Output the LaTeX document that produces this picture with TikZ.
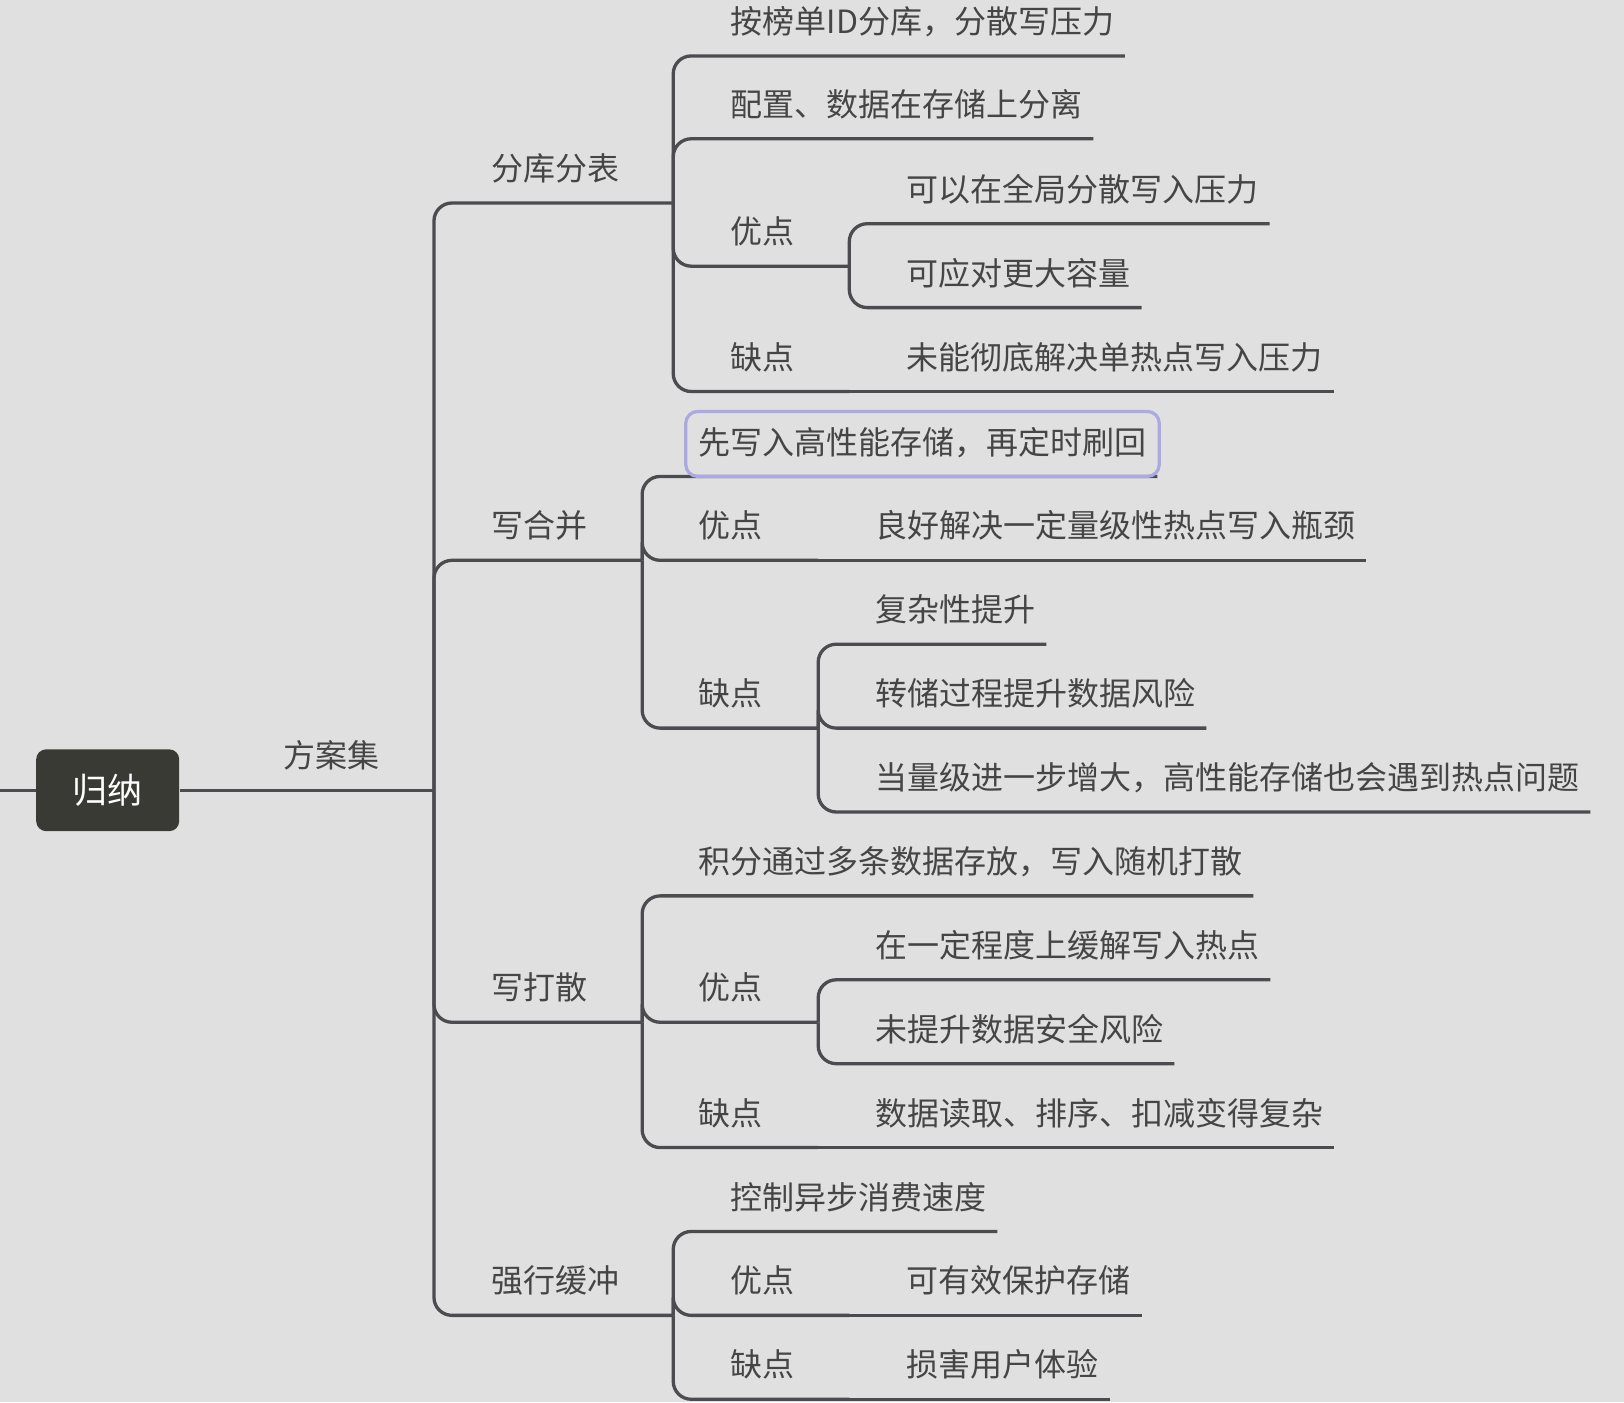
\documentclass[tikz,border=0pt]{standalone}
\usepackage{fontspec}
\usepackage{xcolor}
\usepackage{tikz}
\usetikzlibrary{calc}
\usetikzlibrary{positioning}
\newfontfamily\cjk{Noto Sans CJK SC}
\definecolor{bgcolor}{HTML}{E0E0E0}
\definecolor{linkcolor}{HTML}{4B4B50}
\definecolor{textcolor}{HTML}{454545}
\definecolor{rootfill}{HTML}{393A33}
\definecolor{hlcolor}{HTML}{ABA9E3}
\tikzset{
	rootnode/.style={rectangle, rounded corners=5pt, fill=rootfill, text=white, minimum width=71.5pt, minimum height=40.9pt, font=\cjk\fontsize{17.5}{20}\selectfont},
	topicnode/.style={anchor=south west, inner xsep=5.2pt, inner ysep=0pt, text depth=11pt, text=textcolor, font=\cjk\fontsize{16}{18}\selectfont},
	linkline/.style={draw=linkcolor, line width=1.65pt, rounded corners=9pt},
	hlbox/.style={draw=hlcolor, line width=1.6pt, rounded corners=6pt}
}

\begin{document}
\begin{tikzpicture}[x=0.51786pt, y=-0.51786pt]
	\fill[bgcolor] (0,0) rectangle (1568,1354);
	\useasboundingbox (0,0) rectangle (1568,1354);

		\node[rootnode] at (104,763) (root) {归纳};
		\node[topicnode] at (263,763) (fa) {方案集};
		\coordinate (stub) at (0,763);
		\coordinate (j0) at (419,763);

		\node[topicnode] at (464,196) (n1) {分库分表};
		\node[topicnode] at (464,541) (n2) {写合并};
		\node[topicnode] at (464,987) (n3) {写打散};
		\node[topicnode] at (464,1270) (n4) {强行缓冲};

		\node[topicnode] at (695,54) (n11) {按榜单ID分库，分散写压力};
		\node[topicnode] at (695,134) (n12) {配置、数据在存储上分离};
		\node[topicnode] at (695,257) (n13) {优点};
		\node[topicnode] at (695,378) (n14) {缺点};
		\node[topicnode] at (865,216) (n131) {可以在全局分散写入压力};
		\node[topicnode] at (865,297) (n132) {可应对更大容量};
		\node[topicnode] at (865,378) (n141) {未能彻底解决单热点写入压力};

		\node[topicnode, text height=21.1pt] at (664,460) (n21) {先写入高性能存储，再定时刷回};
		\node[topicnode] at (664,541) (n22) {优点};
		\node[topicnode] at (664,703) (n23) {缺点};
		\node[topicnode] at (835,541) (n221) {良好解决一定量级性热点写入瓶颈};
		\node[topicnode] at (835,622) (n231) {复杂性提升};
		\node[topicnode] at (835,703) (n232) {转储过程提升数据风险};
		\node[topicnode] at (835,784) (n233) {当量级进一步增大，高性能存储也会遇到热点问题};

		\node[topicnode] at (664,865) (n31) {积分通过多条数据存放，写入随机打散};
		\node[topicnode] at (664,987) (n32) {优点};
		\node[topicnode] at (664,1108) (n33) {缺点};
		\node[topicnode] at (835,946) (n321) {在一定程度上缓解写入热点};
		\node[topicnode] at (835,1027) (n322) {未提升数据安全风险};
		\node[topicnode] at (835,1108) (n331) {数据读取、排序、扣减变得复杂};

		\node[topicnode] at (695,1189) (n41) {控制异步消费速度};
		\node[topicnode] at (695,1270) (n42) {优点};
		\node[topicnode] at (695,1351) (n43) {缺点};
		\node[topicnode] at (865,1270) (n421) {可有效保护存储};
		\node[topicnode] at (865,1351) (n431) {损害用户体验};

		\coordinate (j1) at (650,196);
		\coordinate (j2) at (620,541);
		\coordinate (j3) at (620,987);
		\coordinate (j4) at (650,1270);
		\coordinate (j13) at (820,257);
		\coordinate (j14) at (820,378);
		\coordinate (j22) at (790,541);
		\coordinate (j23) at (790,703);
		\coordinate (j32) at (790,987);
		\coordinate (j33) at (790,1108);
		\coordinate (j42) at (820,1270);
		\coordinate (j43) at (820,1351);

		\draw[linkline] (stub) -- (root.west);
		\draw[linkline] (root.east) -- (fa.south west) -- (fa.south east) -- (j0);

		\draw[linkline] (j0) |- (n1.south west) -- (n1.south east) -- (j1);
		\draw[linkline] (j0) |- (n2.south west) -- (n2.south east) -- (j2);
		\draw[linkline] (j0) |- (n3.south west) -- (n3.south east) -- (j3);
		\draw[linkline] (j0) |- (n4.south west) -- (n4.south east) -- (j4);

		\draw[linkline] (j1) |- (n11.south west) -- (n11.south east);
		\draw[linkline] (j1) |- (n12.south west) -- (n12.south east);
		\draw[linkline] (j1) |- (n13.south west) -- (n13.south east) -- (j13);
		\draw[linkline] (j1) |- (n14.south west) -- (n14.south east) -- (j14);
		\draw[linkline] (j13) |- (n131.south west) -- (n131.south east);
		\draw[linkline] (j13) |- (n132.south west) -- (n132.south east);
		\draw[linkline] (j14) -- (n141.south west) -- (n141.south east);

		\draw[linkline] (j2) |- (n21.south west) -- (n21.south east);
		\draw[linkline] (j2) |- (n22.south west) -- (n22.south east) -- (j22);
		\draw[linkline] (j2) |- (n23.south west) -- (n23.south east) -- (j23);
		\draw[linkline] (j22) -- (n221.south west) -- (n221.south east);
		\draw[linkline] (j23) |- (n231.south west) -- (n231.south east);
		\draw[linkline] (j23) |- (n232.south west) -- (n232.south east);
		\draw[linkline] (j23) |- (n233.south west) -- (n233.south east);

		\draw[linkline] (j3) |- (n31.south west) -- (n31.south east);
		\draw[linkline] (j3) |- (n32.south west) -- (n32.south east) -- (j32);
		\draw[linkline] (j3) |- (n33.south west) -- (n33.south east) -- (j33);
		\draw[linkline] (j32) |- (n321.south west) -- (n321.south east);
		\draw[linkline] (j32) |- (n322.south west) -- (n322.south east);
		\draw[linkline] (j33) -- (n331.south west) -- (n331.south east);

		\draw[linkline] (j4) |- (n41.south west) -- (n41.south east);
		\draw[linkline] (j4) |- (n42.south west) -- (n42.south east) -- (j42);
		\draw[linkline] (j4) |- (n43.south west) -- (n43.south east) -- (j43);
		\draw[linkline] (j42) -- (n421.south west) -- (n421.south east);
		\draw[linkline] (j43) -- (n431.south west) -- (n431.south east);

		% highlighted topic
		\draw[hlbox] ([xshift=-1pt]n21.south west) rectangle ([xshift=1pt]n21.north east);

\end{tikzpicture}
\end{document}
